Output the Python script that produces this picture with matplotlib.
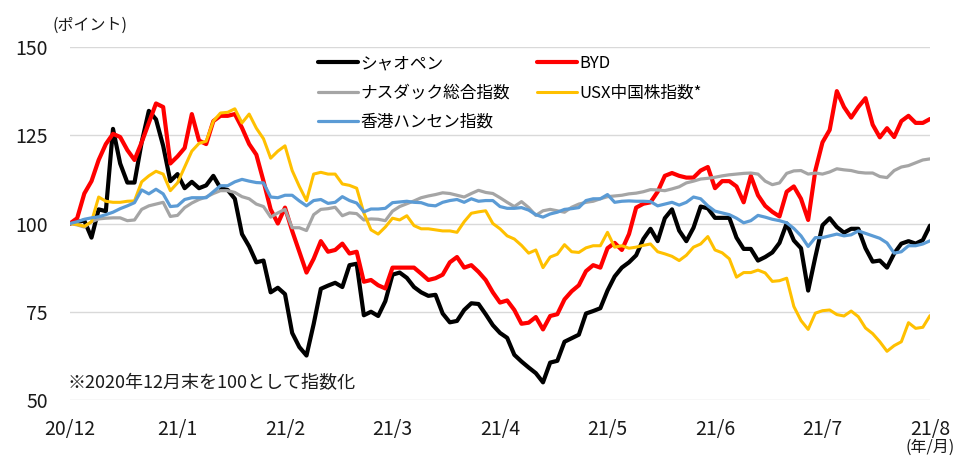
import numpy as np
import matplotlib
matplotlib.use("Agg")
import matplotlib.pyplot as plt

plt.rcParams['font.family'] = ['Noto Sans CJK JP', 'DejaVu Sans']

month_labels = ['20/12', '21/1', '21/2', '21/3', '21/4', '21/5', '21/6', '21/7', '21/8']

xiaopeng = [100, 100.5, 100.8, 96, 104, 103.5, 126.8, 117, 111.6, 111.6,
            123, 131.9, 129.5, 122, 112, 114, 110, 111.8, 110, 110.8,
            113.5, 110, 109.5, 107, 97, 93.5, 89, 89.5, 80.5, 81.8,
            80, 69, 65, 62.6, 71.5, 81.5, 82.4, 83.2, 82, 88.2,
            88.6, 74, 75, 73.8, 78, 85.5, 86.1, 84.6, 82, 80.5,
            79.5, 79.8, 74.5, 72, 72.4, 75.5, 77.4, 77.2, 74.3, 71.2,
            69, 67.6, 62.8, 60.9, 59.2, 57.6, 55, 60.6, 61.1, 66.5,
            67.5, 68.5, 74.5, 75.2, 76, 81, 85, 87.5, 89, 91,
            95.6, 98.5, 95, 101.5, 104, 98, 95, 98.8, 104.8, 104.3,
            101.6, 101.6, 101.6, 96, 92.8, 92.8, 89.5, 90.5, 91.8, 94.5,
            100, 95.2, 93, 81, 90.5, 99.5, 101.5, 99, 97.4, 98.5,
            98.5, 93, 89.2, 89.5, 87.5, 91.5, 94.3, 95, 94.3, 95.3,
            99.4]

byd = [100, 101.5, 108.5, 112, 118, 122.5, 125.4, 124.5, 120.8, 118,
       123, 128.5, 134, 133, 117, 119, 121.4, 131, 123.5, 122.5,
       129, 130.5, 130.5, 131, 127.1, 122.5, 119.5, 112, 104, 100,
       104.5, 97.9, 92, 86.1, 90, 95, 92, 92.5, 94.3, 91.5,
       92, 83.5, 84, 82.5, 81.6, 87.5, 87.5, 87.5, 87.5, 85.8,
       84, 84.5, 85.5, 89, 90.5, 87.5, 88.2, 86.3, 84, 80.5,
       77.6, 78.2, 75.5, 71.6, 71.9, 73.5, 70, 73.8, 74.3, 78.5,
       80.8, 82.5, 86.5, 88.2, 87.5, 93, 94.5, 92.5, 97, 104.5,
       105.6, 106, 109, 113.5, 114.3, 113.5, 113, 113, 115, 116,
       110, 112, 112, 110.5, 106, 113.5, 108, 105, 103.3, 102,
       109, 110.5, 107, 101, 115, 123, 126.5, 137.5, 133, 130,
       133, 135.5, 128, 124.4, 127, 124.5, 129, 130.5, 128.5, 128.5,
       129.6]

nasdaq = [100, 99.6, 99, 100.5, 101.3, 101.5, 101.6, 101.6, 100.8, 101,
          104, 105, 105.5, 106, 102, 102.3, 104.5, 105.8, 106.8, 107.5,
          108.5, 109.3, 109.3, 108.8, 107.6, 107, 105.5, 104.8, 101.8, 103,
          104, 98.8, 98.8, 98, 102.5, 104, 104.2, 104.6, 102.2, 103,
          102.8, 101, 101.3, 101.2, 100.8, 103.5, 104.8, 105.6, 106.4, 107.3,
          107.8, 108.2, 108.7, 108.5, 108, 107.5, 108.5, 109.4, 108.8, 108.5,
          107.3, 106, 104.8, 106.2, 104.5, 102.3, 103.6, 104, 103.6, 103.2,
          104.6, 105.5, 106, 106.3, 107, 107.6, 107.8, 108, 108.4, 108.6,
          109, 109.6, 109.5, 109.3, 109.8, 110.4, 111.5, 112, 112.6, 112.8,
          113.1, 113.5, 113.8, 114, 114.2, 114.3, 114, 112, 111, 111.5,
          114.2, 114.9, 115, 114, 114.3, 114, 114.6, 115.5, 115.2, 115,
          114.5, 114.3, 114.3, 113.3, 113, 115, 116, 116.4, 117.2, 118,
          118.3]

usx_china = [100, 99.7, 99.2, 100.5, 107.5, 106.3, 106, 106, 106.3, 106.4,
             111.8, 113.5, 114.8, 114, 109.3, 111.5, 116, 120.5, 122.7, 123.3,
             129, 131.3, 131.5, 132.5, 128.5, 131, 127, 124, 118.5, 120.5,
             122, 115, 110.5, 106.5, 114, 114.5, 114, 114, 111.2, 110.8,
             110, 103, 98.2, 97, 99, 101.5, 101, 102.2, 99.4, 98.5,
             98.5, 98.2, 97.9, 97.9, 97.5, 100.5, 102.9, 103.3, 103.6, 100,
             98.5, 96.5, 95.6, 93.8, 91.6, 92.5, 87.5, 90.5, 91.3, 94,
             92, 91.8, 93.1, 93.7, 93.7, 97.5, 93.3, 93.7, 93, 93.3,
             93.8, 94.2, 92, 91.4, 90.7, 89.5, 91, 93.3, 94.2, 96.3,
             92.5, 91.7, 90, 84.8, 86.1, 86.1, 86.8, 86, 83.6, 83.8,
             84.5, 76.5, 72.5, 70, 74.6, 75.3, 75.5, 74.2, 73.8, 75.2,
             73.6, 70.4, 68.8, 66.5, 63.8, 65.4, 66.5, 71.9, 70.3, 70.6,
             73.9]

hang_seng = [100, 100.5, 101.2, 101.6, 101.9, 102.5, 103.2, 104.2, 105, 105.9,
             109.5, 108.4, 109.7, 108.4, 104.8, 105, 106.8, 107.3, 107.3, 107.3,
             109, 110.7, 110.7, 111.8, 112.5, 112, 111.6, 111.5, 107.5, 107.3,
             108, 108, 106.4, 105, 106.5, 106.8, 105.7, 106, 107.6, 106.5,
             105.8, 103.3, 104.1, 104.1, 104.3, 105.9, 106.1, 106.3, 106, 105.9,
             105.2, 105, 106, 106.5, 106.8, 106, 107, 106.3, 106.5, 106.5,
             104.8, 104.3, 104.3, 104.5, 103.8, 102.5, 101.8, 102.7, 103.2, 104,
             104.2, 104.5, 106.5, 107, 107, 108.2, 106, 106.3, 106.4, 106.3,
             106.3, 106.2, 105, 105.5, 106, 105.2, 106, 107.5, 107, 105,
             103.5, 103, 102.5, 101.5, 100.2, 100.8, 102.3, 101.8, 101.2, 100.8,
             100.2, 98.6, 96.5, 93.5, 96, 96, 96.5, 97, 96.5, 96.8,
             97.9, 97.2, 96.5, 95.8, 94.5, 91.6, 92, 93.7, 93.7, 94.2,
             95.1]

series = [
    ('シャオペン', xiaopeng, '#000000', 3.0),
    ('BYD', byd, '#FF0000', 3.0),
    ('ナスダック総合指数', nasdaq, '#A5A5A5', 2.3),
    ('USX中国株指数*', usx_china, '#FFC000', 2.2),
    ('香港ハンセン指数', hang_seng, '#5B9BD5', 2.3),
]

fig = plt.figure(figsize=(9.62, 4.57), dpi=100)
ax = fig.add_axes([70 / 962, 1 - 400 / 457, 860 / 962, 353 / 457])

days = np.arange(len(xiaopeng))
handles = {}
for name, vals, color, lw in series:
    h, = ax.plot(days, vals, color=color, lw=lw, solid_joinstyle='round',
                 solid_capstyle='round', label=name)
    handles[name] = h

ax.set_xlim(0, len(xiaopeng) - 1)
ax.set_ylim(50, 150)
ax.set_yticks([50, 75, 100, 125, 150])
step = (len(xiaopeng) - 1) // (len(month_labels) - 1)
ax.set_xticks(np.arange(0, len(xiaopeng), step))
ax.set_xticklabels(month_labels)
ax.grid(axis='y', color='#D9D9D9', lw=1.0)
ax.set_axisbelow(True)
for s in ax.spines.values():
    s.set_visible(False)
ax.tick_params(axis='both', length=0, labelsize=14, colors='#1a1a1a')
ax.tick_params(axis='y', pad=16)
ax.tick_params(axis='x', pad=14)

order = ['シャオペン', 'ナスダック総合指数', '香港ハンセン指数', 'BYD', 'USX中国株指数*']
leg = fig.legend([handles[k] for k in order], order, loc='upper left',
                 bbox_to_anchor=(318 / 962, 1 - 55 / 457), ncol=2, frameon=False,
                 fontsize=12, handlelength=2.4, handletextpad=0.15,
                 columnspacing=1.6, labelspacing=0.75, borderpad=0,
                 borderaxespad=0)

fig.text(53 / 962, 1 - 25 / 457, '(ポイント)', fontsize=11.5, va='center', ha='left',
         color='#1a1a1a')
fig.text(68 / 962, 1 - 383 / 457, '※2020年12月末を100として指数化', fontsize=13,
         va='center', ha='left', color='#1a1a1a')
fig.text(930 / 962, 1 - 447 / 457, '(年/月)', fontsize=11.5, va='center', ha='center',
         color='#1a1a1a')

fig.savefig('out.png', dpi=100)
